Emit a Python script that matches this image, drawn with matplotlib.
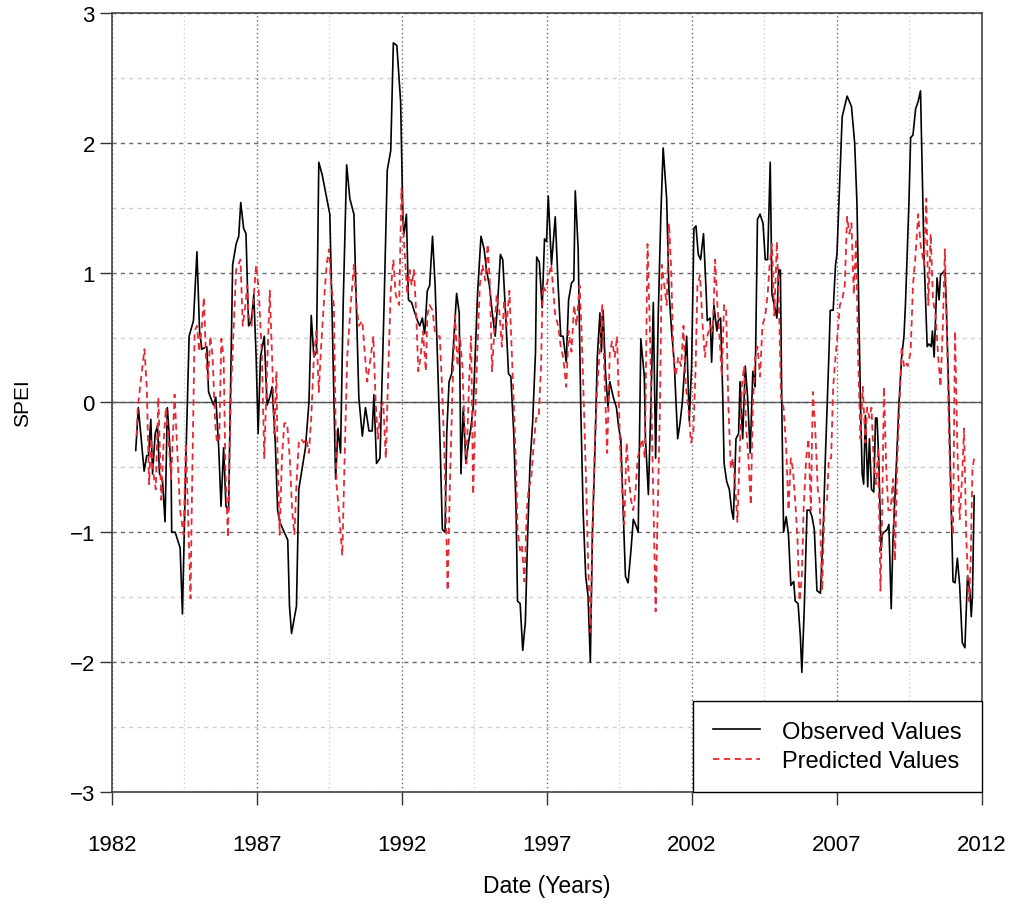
import matplotlib
matplotlib.use("Agg")
import matplotlib.pyplot as plt
import numpy as np

plt.rcParams['font.family'] = ['Liberation Sans', 'DejaVu Sans']

# observed SPEI (decimal year, value)
obs_year = [
    1982.83, 1982.92, 1983.12, 1983.21, 1983.27, 1983.35, 1983.41, 1983.50, 1983.58, 1983.65,
    1983.75, 1983.84, 1983.92, 1983.98, 1984.05, 1984.07, 1984.19, 1984.36, 1984.44, 1984.56,
    1984.67, 1984.82, 1984.94, 1985.03, 1985.11, 1985.28, 1985.34, 1985.51, 1985.59, 1985.69,
    1985.77, 1985.86, 1985.94, 1986.03, 1986.17, 1986.29, 1986.38, 1986.45, 1986.55, 1986.63,
    1986.72, 1986.82, 1986.90, 1986.98, 1987.05,
    1987.13, 1987.26, 1987.36, 1987.45, 1987.53, 1987.64, 1987.72, 1987.79, 1987.99, 1988.07,
    1988.13, 1988.20, 1988.37, 1988.45, 1988.68, 1988.80, 1988.88, 1988.97, 1989.06, 1989.14,
    1989.26, 1989.52, 1989.60, 1989.72, 1989.80, 1989.89, 1989.98, 1990.10, 1990.21, 1990.35,
    1990.44, 1990.52, 1990.64, 1990.75, 1990.87, 1990.98, 1991.04, 1991.13, 1991.25, 1991.39,
    1991.50, 1991.62, 1991.71, 1991.83, 1991.96, 1992.04,
    1992.08, 1992.16, 1992.23, 1992.34, 1992.42, 1992.54, 1992.62, 1992.71, 1992.79, 1992.88,
    1992.96, 1993.06, 1993.15, 1993.23, 1993.32, 1993.40, 1993.49, 1993.55, 1993.63, 1993.72,
    1993.81, 1993.89, 1993.98, 1994.04, 1994.12, 1994.21, 1994.30, 1994.38, 1994.46, 1994.53,
    1994.61, 1994.73, 1994.84, 1994.92, 1995.02, 1995.13, 1995.22, 1995.30, 1995.40, 1995.48,
    1995.59, 1995.68, 1995.76, 1995.86, 1995.94, 1995.99, 1996.08, 1996.17, 1996.26, 1996.34,
    1996.42, 1996.51, 1996.61, 1996.65, 1996.74, 1996.84, 1996.92, 1996.99, 1997.05,
    1997.16, 1997.29, 1997.39, 1997.48, 1997.56, 1997.67, 1997.75, 1997.85, 1997.93, 1997.98,
    1998.08, 1998.17, 1998.25, 1998.34, 1998.42, 1998.50, 1998.57, 1998.65, 1998.74, 1998.83,
    1998.88, 1998.94, 1999.02, 1999.11, 1999.17, 1999.29, 1999.40, 1999.48, 1999.55, 1999.63,
    1999.71, 1999.80, 1999.90, 1999.98, 2000.09, 2000.15, 2000.24, 2000.36, 2000.40, 2000.50,
    2000.59, 2000.67, 2000.75, 2000.84, 2000.93, 2001.01, 2001.13, 2001.21, 2001.30, 2001.39,
    2001.51, 2001.59, 2001.67, 2001.82, 2001.91, 2001.99, 2002.07,
    2002.14, 2002.22, 2002.30, 2002.40, 2002.49, 2002.53, 2002.63, 2002.68, 2002.76, 2002.86,
    2002.91, 2002.99, 2003.06, 2003.11, 2003.20, 2003.29, 2003.37, 2003.43, 2003.52, 2003.61,
    2003.66, 2003.75, 2003.84, 2003.92, 2004.01, 2004.10, 2004.18, 2004.26, 2004.35, 2004.45,
    2004.53, 2004.61, 2004.70, 2004.76, 2004.84, 2004.93, 2004.99, 2005.05, 2005.10, 2005.16,
    2005.25, 2005.33, 2005.41, 2005.51, 2005.56, 2005.66, 2005.74, 2005.79, 2005.87, 2005.97,
    2006.06, 2006.14, 2006.22, 2006.31, 2006.43, 2006.52, 2006.60, 2006.66, 2006.72, 2006.77,
    2006.87, 2006.95, 2007.00, 2007.08,
    2007.18, 2007.35, 2007.50, 2007.61, 2007.69, 2007.75, 2007.81, 2007.87, 2007.92, 2007.98,
    2008.06, 2008.12, 2008.19, 2008.27, 2008.33, 2008.38, 2008.44, 2008.52, 2008.56, 2008.62,
    2008.73, 2008.79, 2008.87, 2008.93, 2009.02, 2009.13, 2009.23, 2009.31, 2009.36, 2009.48,
    2009.54, 2009.62, 2009.71, 2009.80, 2009.88, 2010.00, 2010.11, 2010.17, 2010.25, 2010.29,
    2010.35, 2010.45, 2010.52, 2010.57, 2010.65, 2010.72, 2010.77, 2010.86, 2010.94, 2011.00,
    2011.07, 2011.15, 2011.23, 2011.32, 2011.41, 2011.50, 2011.58, 2011.63, 2011.67, 2011.73,
]
obs_val = [
    -0.37, -0.04, -0.53, -0.41, -0.41, -0.13, -0.55, -0.24, -0.18, -0.55,
    -0.59, -0.92, -0.04, -0.24, -0.55, -1.00, -1.00, -1.12, -1.63, -0.43,
    0.51, 0.63, 1.16, 0.55, 0.41, 0.43, 0.08, -0.02, 0.04, -0.35,
    -0.80, -0.35, -0.80, -0.83, 1.06, 1.22, 1.28, 1.54, 1.34, 1.30,
    0.59, 0.63, 0.83, 0.35, -0.24,
    0.35, 0.51, -0.02, 0.04, 0.12, -0.31, -0.83, -0.92, -1.02, -1.06,
    -1.57, -1.78, -1.57, -0.67, -0.35, 0.00, 0.67, 0.35, 0.39, 1.85,
    1.75, 1.45, 0.67, -0.59, -0.20, -0.39, 0.75, 1.83, 1.57, 1.45,
    0.71, 0.04, -0.26, -0.04, -0.22, -0.22, 0.06, -0.47, -0.43, 0.75,
    1.79, 1.94, 2.77, 2.75, 2.32, 1.41,
    1.30, 1.45, 0.79, 0.77, 0.71, 0.63, 0.59, 0.65, 0.53, 0.86,
    0.90, 1.28, 0.90, 0.35, -0.31, -0.98, -1.00, -0.24, 0.16, 0.22,
    0.55, 0.84, 0.69, -0.55, -0.04, -0.47, -0.31, -0.20, -0.04, 0.35,
    0.83, 1.28, 1.18, 1.02, 0.90, 0.67, 0.51, 0.75, 1.14, 1.10,
    0.63, 0.22, 0.20, -0.24, -0.83, -1.53, -1.55, -1.91, -1.69, -1.02,
    -0.47, -0.16, 0.39, 1.12, 1.08, 0.73, 1.26, 1.24, 1.59,
    1.06, 1.43, 0.90, 0.51, 0.51, 0.31, 0.79, 0.92, 0.94, 1.63,
    1.18, -0.04, -0.83, -1.34, -1.49, -2.00, -1.02, -0.43, 0.35, 0.69,
    0.39, 0.71, 0.24, -0.04, 0.16, 0.04, -0.04, -0.20, -0.28, -0.83,
    -1.34, -1.39, -1.14, -0.90, -0.96, -1.00, 0.49, 0.20, -0.28, -0.71,
    0.00, 0.77, -0.43, 0.67, 1.45, 1.96, 1.57, 0.86, 0.55, 0.31,
    -0.28, -0.16, 0.00, 0.51, -0.14, 0.28, 1.34,
    1.36, 1.14, 1.10, 1.30, 0.86, 0.63, 0.65, 0.31, 0.75, 0.55,
    0.63, 0.65, 0.08, -0.47, -0.61, -0.67, -0.83, -0.90, -0.28, -0.24,
    0.16, -0.28, 0.28, 0.04, -0.39, 0.24, 0.12, 1.41, 1.45, 1.38,
    1.10, 1.10, 1.85, 0.83, 0.75, 0.65, 1.02, 1.02, -0.04, -1.00,
    -0.88, -1.02, -1.41, -1.38, -1.53, -1.55, -1.81, -2.08, -1.61, -0.83,
    -0.83, -0.88, -0.98, -1.45, -1.47, -1.02, -0.43, -0.04, 0.35, 0.71,
    0.71, 1.06, 1.14, 1.61,
    2.20, 2.36, 2.28, 2.00, 1.53, 0.75, 0.00, -0.55, -0.63, -0.10,
    -0.65, -0.28, -0.67, -0.69, -0.12, -0.12, -0.43, -1.14, -1.02, -1.00,
    -0.98, -0.94, -1.59, -1.06, -0.63, -0.04, 0.35, 0.51, 0.75, 1.53,
    2.04, 2.06, 2.26, 2.32, 2.40, 1.14, 0.43, 0.45, 0.43, 0.55,
    0.35, 0.96, 0.79, 0.98, 1.00, 1.02, 0.75, 0.00, -0.83, -1.38,
    -1.39, -1.20, -1.41, -1.85, -1.89, -1.34, -1.45, -1.65, -1.49, -0.72,
]

# predicted SPEI (decimal year, value)
pred_year = [
    1982.86, 1982.90, 1983.13, 1983.21, 1983.29, 1983.36, 1983.44, 1983.52, 1983.61, 1983.71,
    1983.79, 1983.87, 1983.96, 1984.05, 1984.17, 1984.25, 1984.36, 1984.48, 1984.56, 1984.65,
    1984.72, 1984.76, 1984.86, 1984.94, 1985.02, 1985.11, 1985.18, 1985.25, 1985.32, 1985.40,
    1985.48, 1985.57, 1985.63, 1985.71, 1985.78, 1985.86, 1985.92, 1986.01, 1986.06, 1986.12,
    1986.21, 1986.29, 1986.44, 1986.52, 1986.61, 1986.67, 1986.72, 1986.82, 1986.90, 1986.98,
    1987.07,
    1987.18, 1987.26, 1987.36, 1987.45, 1987.53, 1987.61, 1987.68, 1987.72, 1987.79, 1987.87,
    1987.95, 1988.05, 1988.14, 1988.22, 1988.30, 1988.37, 1988.45, 1988.53, 1988.62, 1988.71,
    1988.80, 1988.88, 1988.97, 1989.06, 1989.14, 1989.22, 1989.31, 1989.41, 1989.49, 1989.57,
    1989.66, 1989.75, 1989.83, 1989.95, 1990.03, 1990.12, 1990.24, 1990.35, 1990.44, 1990.52,
    1990.64, 1990.72, 1990.81, 1990.93, 1991.02, 1991.10, 1991.18, 1991.27, 1991.36, 1991.45,
    1991.53, 1991.62, 1991.71, 1991.79, 1991.91, 1991.99, 1992.08,
    1992.19, 1992.27, 1992.34, 1992.42, 1992.50, 1992.57, 1992.65, 1992.73, 1992.83, 1992.88,
    1992.96, 1993.06, 1993.15, 1993.23, 1993.31, 1993.38, 1993.46, 1993.52, 1993.58, 1993.66,
    1993.75, 1993.84, 1993.92, 1994.00, 1994.09, 1994.15, 1994.23, 1994.32, 1994.39, 1994.46,
    1994.53, 1994.61, 1994.69, 1994.78, 1994.88, 1994.96, 1995.04, 1995.11, 1995.19, 1995.27,
    1995.36, 1995.45, 1995.53, 1995.61, 1995.71, 1995.80, 1995.88, 1995.94, 1995.99, 1996.08,
    1996.14, 1996.23, 1996.31, 1996.37, 1996.46, 1996.54, 1996.63, 1996.72, 1996.80, 1996.86,
    1996.95, 1997.03, 1997.15,
    1997.21, 1997.29, 1997.39, 1997.48, 1997.56, 1997.67, 1997.75, 1997.85, 1997.94, 1998.02,
    1998.13, 1998.19, 1998.28, 1998.36, 1998.42, 1998.51, 1998.57, 1998.65, 1998.73, 1998.83,
    1998.91, 1999.00, 1999.08, 1999.17, 1999.25, 1999.34, 1999.42, 1999.52, 1999.60, 1999.67,
    1999.75, 1999.83, 1999.90, 1999.98, 2000.06, 2000.13, 2000.21, 2000.29, 2000.38, 2000.47,
    2000.55, 2000.63, 2000.70, 2000.75, 2000.82, 2000.90, 2000.96, 2001.05, 2001.13, 2001.21,
    2001.28, 2001.36, 2001.44, 2001.53, 2001.63, 2001.71, 2001.79, 2001.88, 2001.97, 2002.05,
    2002.13,
    2002.19, 2002.28, 2002.37, 2002.45, 2002.53, 2002.63, 2002.72, 2002.80, 2002.88, 2002.95,
    2003.03, 2003.11, 2003.18, 2003.26, 2003.34, 2003.41, 2003.49, 2003.57, 2003.64, 2003.72,
    2003.80, 2003.87, 2003.95, 2004.03, 2004.10, 2004.18, 2004.26, 2004.35, 2004.43, 2004.53,
    2004.61, 2004.68, 2004.76, 2004.84, 2004.93, 2005.02, 2005.07, 2005.16, 2005.25, 2005.33,
    2005.41, 2005.48, 2005.56, 2005.64, 2005.71, 2005.79, 2005.85, 2005.94, 2006.02, 2006.10,
    2006.17, 2006.25, 2006.34, 2006.40, 2006.49, 2006.57, 2006.66, 2006.72, 2006.80, 2006.87,
    2006.95, 2007.03, 2007.10,
    2007.18, 2007.27, 2007.35, 2007.43, 2007.50, 2007.58, 2007.66, 2007.73, 2007.81, 2007.89,
    2007.98, 2008.04, 2008.12, 2008.19, 2008.27, 2008.35, 2008.42, 2008.50, 2008.56, 2008.62,
    2008.70, 2008.77, 2008.85, 2008.93, 2009.00, 2009.08, 2009.16, 2009.23, 2009.31, 2009.36,
    2009.44, 2009.54, 2009.62, 2009.71, 2009.80, 2009.88, 2010.00, 2010.08, 2010.15, 2010.23,
    2010.31, 2010.40, 2010.49, 2010.57, 2010.65, 2010.72, 2010.80, 2010.86, 2010.94, 2011.00,
    2011.07, 2011.15, 2011.23, 2011.32, 2011.38, 2011.46, 2011.55, 2011.61, 2011.67, 2011.73,
]
pred_val = [
    -0.26, -0.04, 0.41, 0.12, -0.63, -0.28, -0.55, -0.67, 0.04, -0.75,
    -0.31, -0.04, -0.28, -0.59, 0.06, -0.31, -0.83, -1.02, -0.31, -0.98,
    -1.51, -0.83, 0.55, 0.59, 0.39, 0.59, 0.81, 0.35, 0.16, 0.51,
    0.35, -0.16, -0.31, -0.28, 0.49, 0.35, -0.51, -1.04, -0.43, 0.12,
    0.59, 1.02, 1.10, 0.59, 0.75, 0.90, 0.67, 0.59, 0.83, 1.06,
    0.86,
    0.35, -0.43, 0.28, 0.86, 0.35, -0.24, 0.24, -0.43, -1.02, -0.43,
    -0.16, -0.16, -0.43, -0.83, -1.02, -0.63, -0.31, -0.28, -0.31, -0.28,
    -0.39, -0.12, 0.35, 0.55, 0.08, 0.43, 0.75, 1.06, 1.18, 0.90,
    0.75, -0.63, -0.83, -1.18, -0.43, 0.35, 0.75, 1.06, 0.75, 0.59,
    0.63, 0.39, 0.16, 0.35, 0.51, 0.00, -0.28, -0.04, 0.00, -0.43,
    0.20, 0.86, 1.10, 0.83, 0.75, 1.65, 1.22,
    0.83, 1.02, 0.90, 1.02, 0.67, 0.24, 0.35, 0.55, 0.24, 0.67,
    0.75, 0.71, 0.53, 0.51, 0.51, 0.16, -0.31, -0.83, -1.45, -0.63,
    0.12, 0.67, 0.28, 0.51, 0.28, -0.12, -0.47, 0.16, 0.51, -0.71,
    -0.12, 0.43, 0.90, 1.06, 0.94, 1.22, 0.90, 0.24, 0.55, 0.83,
    0.71, 0.43, 0.79, 0.59, 0.86, 0.35, -0.12, -0.51, -0.98, -1.14,
    -1.10, -1.38, -0.83, -0.67, -0.59, -0.35, -0.12, -0.12, 0.28, 0.90,
    0.86, 0.94, 1.06,
    0.90, 0.67, 0.59, 0.43, 0.35, 0.12, 0.55, 0.39, 0.75, 0.59,
    0.90, 0.59, -0.04, -0.67, -1.22, -1.77, -1.02, -0.35, 0.08, 0.43,
    0.75, 0.12, -0.39, 0.39, 0.47, 0.35, 0.51, -0.31, -0.67, -0.94,
    -0.31, -0.59, -0.75, -0.83, -0.67, -0.43, -0.35, -0.28, -0.43, 1.22,
    0.59, -0.28, -1.02, -1.61, -0.83, -0.04, 1.06, 0.90, 0.75, 1.38,
    1.06, 0.39, 0.20, 0.35, 0.28, 0.59, 0.12, -0.04, -0.31, -0.24,
    0.28,
    0.90, 0.98, 0.59, 0.35, 0.51, 0.59, 0.55, 1.10, 0.75, 0.51,
    0.20, 0.75, 0.71, -0.04, -0.51, -0.43, -0.63, -0.92, -0.43, 0.12,
    0.28, -0.20, -0.43, -0.79, -0.04, 0.35, 0.43, 0.20, 0.59, 0.67,
    0.83, 1.06, 1.22, 0.67, 1.24, 0.59, 0.04, -0.04, -0.35, -0.83,
    -0.43, -0.51, -0.75, -1.06, -1.53, -1.34, -0.83, -0.43, -0.28, -0.83,
    0.08, -0.20, -0.67, -0.75, -1.45, -0.79, -0.75, -0.43, -0.43, 0.12,
    0.35, 0.55, 0.75,
    0.79, 0.90, 1.43, 1.30, 1.38, 0.83, 1.26, 0.35, -0.28, 0.12,
    -0.31, -0.04, -0.12, -0.04, -0.47, -0.63, -0.35, -1.45, -0.83, 0.12,
    -0.51, -0.83, -0.83, -0.59, -1.22, -0.43, 0.00, 0.43, 0.28, 0.31,
    0.28, 0.39, 0.90, 1.14, 1.45, 1.22, 1.06, 1.57, 0.75, 1.30,
    0.79, 0.67, 0.35, 0.12, 0.59, 1.18, 0.43, -0.24, -0.83, -1.02,
    0.55, -0.35, -0.90, -0.55, -0.20, -1.06, -1.53, -1.22, -0.51, -0.43,
]

x_ticks = [1982, 1987, 1992, 1997, 2002, 2007, 2012]
y_ticks = [-3, -2, -1, 0, 1, 2, 3]

fig = plt.figure(figsize=(10.15, 9.03), dpi=100)
ax = fig.add_axes([0.110, 0.122, 0.8575, 0.8625])

# grid (minor first, then major)
for yv in np.arange(-2.5, 3.0, 1.0):
    ax.axhline(yv, color='#cfcfcf', lw=1.0, ls=(0, (3, 3)), zorder=0)
for xv in np.arange(1984.5, 2012, 5):
    ax.axvline(xv, color='#cfcfcf', lw=1.0, ls=(0, (1, 2)), zorder=0)
for yv in y_ticks:
    ax.axhline(yv, color='#6a6a6a', lw=1.0, ls=(0, (3, 3)), zorder=0)
for xv in x_ticks:
    ax.axvline(xv, color='#6a6a6a', lw=1.0, ls=(0, (1, 2)), zorder=0)
ax.axhline(0, color='#555555', lw=1.0, zorder=1)

ax.plot(obs_year, obs_val, color='black', lw=1.2, label='Observed Values', zorder=3)
ax.plot(pred_year, pred_val, color='#e52a33', lw=1.3, ls=(0, (3.5, 2.5)),
        label='Predicted Values', zorder=4)

ax.set_xlim(1982, 2012)
ax.set_ylim(-3, 3)
ax.set_xticks(x_ticks)
ax.set_yticks(y_ticks)
ax.set_yticklabels([str(v).replace('-', '\u2212') for v in y_ticks])
ax.tick_params(axis='both', direction='out', length=9, width=1,
               labelsize=16, color='#333333')
ax.tick_params(axis='x', pad=21)
ax.tick_params(axis='y', pad=3)
for s in ax.spines.values():
    s.set_color('#444444')
    s.set_linewidth(1.2)

ax.set_xlabel('Date (Years)', fontsize=16.5, labelpad=14)
ax.set_ylabel('SPEI', fontsize=15, labelpad=27)

leg = ax.legend(loc='lower right', fontsize=17, fancybox=False, framealpha=1,
                edgecolor='black', borderaxespad=0, handlelength=2.0,
                handletextpad=0.95, borderpad=0.85, labelspacing=0.3)
leg.get_frame().set_linewidth(1.0)
leg.set_zorder(10)

fig.savefig('out.png', dpi=100)
